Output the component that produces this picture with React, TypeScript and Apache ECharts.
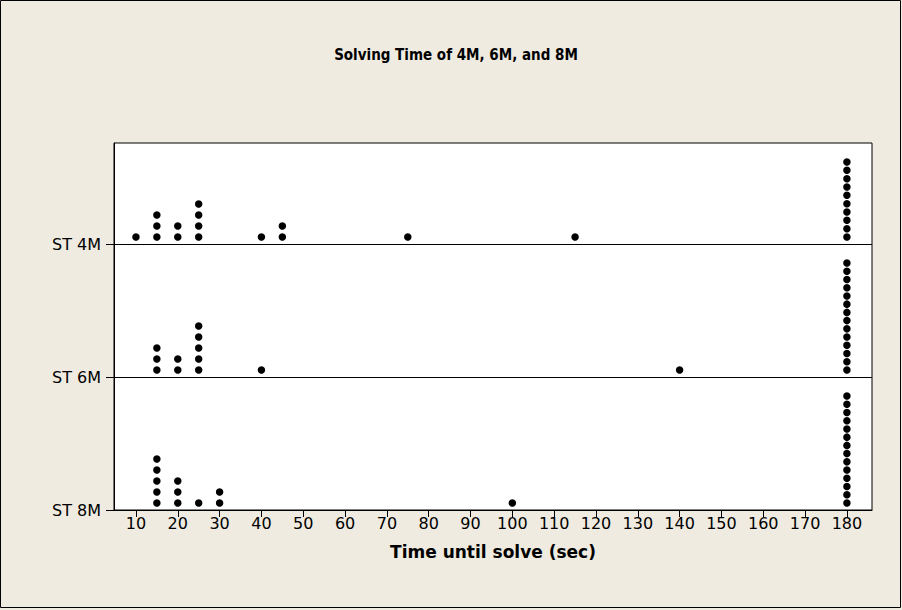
import React, { useEffect, useRef } from "react";
import * as echarts from "echarts";

// ---- Data ----
const categories = ["ST 4M", "ST 6M", "ST 8M"];
const st4M = [10, 15, 15, 15, 20, 20, 25, 25, 25, 25, 40, 45, 45, 75, 115,
  180, 180, 180, 180, 180, 180, 180, 180, 180, 180];
const st6M = [15, 15, 15, 20, 20, 25, 25, 25, 25, 25, 40, 140,
  180, 180, 180, 180, 180, 180, 180, 180, 180, 180, 180, 180, 180, 180];
const st8M = [15, 15, 15, 15, 15, 20, 20, 20, 25, 30, 30, 100,
  180, 180, 180, 180, 180, 180, 180, 180, 180, 180, 180, 180, 180, 180];
const xTicks = [10, 20, 30, 40, 50, 60, 70, 80, 90, 100, 110, 120, 130, 140, 150, 160, 170, 180];

// ---- Layout (pixel-like units on the hidden stacking axis) ----
const PANEL = 133;
const PLOT_H = 367;
const FONT = "DejaVu Sans, Verdana, sans-serif";
const FONT_C = "'DejaVu Sans Condensed', 'DejaVu Sans', sans-serif";

function stackDots(values: number[], base: number, top: number) {
  const counts = new Map<number, number>();
  values.forEach((v) => counts.set(v, (counts.get(v) || 0) + 1));
  const pts: number[][] = [];
  counts.forEach((n, v) => {
    const spacing = n > 1 ? Math.min(11, (top - base - 26) / (n - 1)) : 11;
    for (let k = 0; k < n; k++) pts.push([v, base + 7 + k * spacing]);
  });
  return pts;
}

export default function App() {
  const ref = useRef<HTMLDivElement>(null);
  useEffect(() => {
    if (!ref.current) return;
    const chart = echarts.init(ref.current, null, { renderer: "svg" });
    const groups = [st8M, st6M, st4M];
    const bases = [0, PANEL, 2 * PANEL];
    const tops = [PANEL, 2 * PANEL, PLOT_H];
    const points: number[][] = [];
    groups.forEach((g, i) => points.push(...stackDots(g, bases[i], tops[i])));
    const labelMap: Record<number, string> = { 0: categories[2], [PANEL]: categories[1], [2 * PANEL]: categories[0] };

    chart.setOption({
      animation: false,
      backgroundColor: "#efebe1",
      title: {
        text: "Solving Time of 4M, 6M, and 8M",
        left: 451,
        top: 42,
        textAlign: "center",
        textStyle: { fontFamily: FONT_C, fontSize: 15, fontWeight: "bold", color: "#000" },
      },
      graphic: [
        {
          type: "rect",
          shape: { x: 0.5, y: 0.5, width: 900, height: 607 },
          style: { fill: "none", stroke: "#000", lineWidth: 1 },
          silent: true,
        },
      ],
      grid: {
        left: 114,
        right: 30,
        top: 143,
        bottom: 100,
        containLabel: false,
        outerBoundsMode: "none",
        show: true,
        backgroundColor: "#fff",
        borderColor: "#000",
        borderWidth: 1,
      },
      xAxis: {
        type: "value",
        min: 4.75,
        max: 186,
        axisLine: { show: true, lineStyle: { color: "#000", width: 1 } },
        axisTick: { show: true, customValues: xTicks, length: 7, lineStyle: { color: "#000" } },
        axisLabel: {
          customValues: xTicks,
          fontFamily: FONT,
          fontSize: 16,
          color: "#000",
          margin: 5,
        },
        splitLine: { show: false },
        name: "Time until solve (sec)",
        nameLocation: "middle",
        nameGap: 33,
        nameTextStyle: { fontFamily: FONT, fontSize: 17, fontWeight: "bold", color: "#000" },
      },
      yAxis: {
        type: "value",
        min: 0,
        max: PLOT_H,
        axisLine: { show: true, lineStyle: { color: "#000", width: 1 } },
        axisTick: { show: true, customValues: [0, PANEL, 2 * PANEL], length: 8, lineStyle: { color: "#000" } },
        axisLabel: {
          customValues: [0, PANEL, 2 * PANEL],
          formatter: (v: number) => labelMap[v] || "",
          fontFamily: FONT,
          fontSize: 16,
          color: "#000",
          margin: 13,
        },
        splitLine: { show: false },
      },
      series: [
        {
          type: "scatter",
          data: points,
          symbol: "circle",
          symbolSize: 7.5,
          itemStyle: { color: "#000", opacity: 1 },
          silent: true,
          markLine: {
            silent: true,
            symbol: "none",
            label: { show: false },
            lineStyle: { color: "#000", width: 1, type: "solid" },
            data: [{ yAxis: PANEL }, { yAxis: 2 * PANEL }],
          },
        },
      ],
    });
    return () => chart.dispose();
  }, []);
  return (
    <div
      ref={ref}
      style={{ position: "fixed", left: 0, top: 0, width: 902, height: 610 }}
    />
  );
}
